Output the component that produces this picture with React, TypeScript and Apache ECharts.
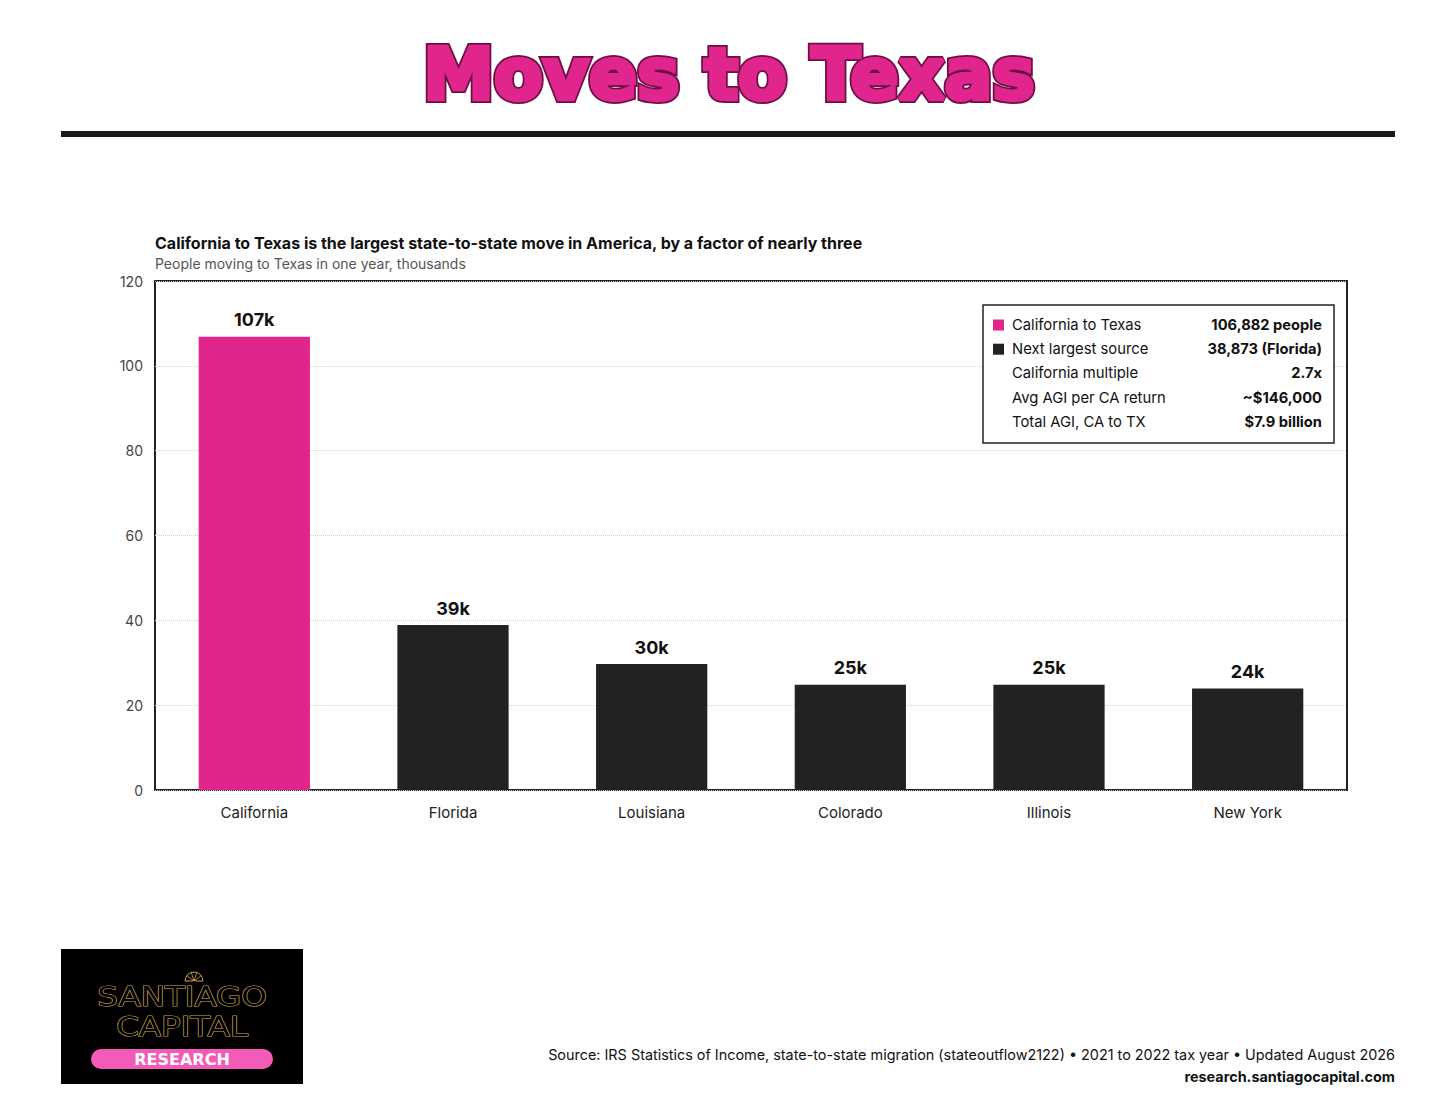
import React, { useEffect, useRef } from "react";
import * as echarts from "echarts";

const states = ["California", "Florida", "Louisiana", "Colorado", "Illinois", "New York"];
const movers = [106.882, 38.873, 29.7, 24.8, 24.8, 23.9];
const barColors = ["#E0268D", "#222222", "#222222", "#222222", "#222222", "#222222"];
const yTicks = [0, 20, 40, 60, 80, 100, 120];

const boxLabels = ["California to Texas", "Next largest source", "California multiple", "Avg AGI per CA return", "Total AGI, CA to TX"];
const boxValues = ["106,882 people", "38,873 (Florida)", "2.7x", "~$146,000", "$7.9 billion"];
const boxSwatches = ["#E0268D", "#222222", null, null, null];

const FONT = "Inter, 'Noto Sans', sans-serif";

export default function App() {
  const ref = useRef<HTMLDivElement>(null);
  useEffect(() => {
    document.body.style.margin = "0";
    const chart = echarts.init(ref.current!, null, { renderer: "svg" });
    const graphics: any[] = [];
    const titleFont = "bold 71px 'DejaVu Sans', sans-serif";
    // title (two layers: dark outline + heavy pink body)
    graphics.push({
      type: "text", x: 729, y: 74,
      style: {
        text: "Moves to Texas", font: titleFont, align: "center", verticalAlign: "middle",
        fill: "#E0268D", stroke: "#6B0F45", lineWidth: 8,
        shadowBlur: 6, shadowColor: "rgba(0,0,0,0.25)", shadowOffsetX: 2, shadowOffsetY: 3,
      },
    });
    graphics.push({
      type: "text", x: 729, y: 74,
      style: {
        text: "Moves to Texas", font: titleFont, align: "center", verticalAlign: "middle",
        fill: "#E0268D", stroke: "#E0268D", lineWidth: 4.5,
      },
    });
    graphics.push({ type: "rect", shape: { x: 61, y: 131, width: 1334, height: 6 }, style: { fill: "#1a1a1a" } });
    graphics.push({
      type: "text", x: 155, y: 235,
      style: { text: "California to Texas is the largest state-to-state move in America, by a factor of nearly three", font: `bold 16px ${FONT}`, fill: "#111" },
    });
    graphics.push({
      type: "text", x: 155, y: 256,
      style: { text: "People moving to Texas in one year, thousands", font: `14px ${FONT}`, fill: "#555" },
    });
    // info box
    graphics.push({ type: "rect", shape: { x: 983, y: 305, width: 351, height: 138 }, style: { fill: "#fff", stroke: "#222", lineWidth: 1.5 }, z: 10 });
    boxLabels.forEach((l, i) => {
      const cy = 325 + i * 24.2;
      const sw = boxSwatches[i];
      if (sw) graphics.push({ type: "rect", shape: { x: 993, y: cy - 5.5, width: 11, height: 11 }, style: { fill: sw }, z: 11 });
      graphics.push({ type: "text", x: 1012, y: cy, style: { text: l, font: `14.8px ${FONT}`, fill: "#111", verticalAlign: "middle" }, z: 11 });
      graphics.push({ type: "text", x: 1322, y: cy, style: { text: boxValues[i], font: `bold 14.7px ${FONT}`, fill: "#111", align: "right", verticalAlign: "middle" }, z: 11 });
    });
    // logo
    graphics.push({ type: "rect", shape: { x: 61, y: 949, width: 242, height: 135 }, style: { fill: "#000" } });
    graphics.push({ type: "sector", shape: { cx: 194, cy: 981, r0: 1.5, r: 9, startAngle: Math.PI, endAngle: 2 * Math.PI }, style: { fill: "none", stroke: "#C9A54C", lineWidth: 1 } });
    [0.2, 0.4, 0.6, 0.8].forEach((f) => {
      const a = Math.PI + f * Math.PI;
      graphics.push({ type: "line", shape: { x1: 194, y1: 981, x2: 194 + 9 * Math.cos(a), y2: 981 + 9 * Math.sin(a) }, style: { stroke: "#C9A54C", lineWidth: 0.8 } });
    });
    graphics.push({ type: "text", x: 182, y: 997, scaleX: 1.25, style: { text: "SANTIAGO", font: "26px 'DejaVu Sans', sans-serif", fill: "#000", stroke: "#C9A54C", lineWidth: 1.2, align: "center", verticalAlign: "middle" } });
    graphics.push({ type: "text", x: 182, y: 1027, scaleX: 1.25, style: { text: "CAPITAL", font: "26px 'DejaVu Sans', sans-serif", fill: "#000", stroke: "#C9A54C", lineWidth: 1.2, align: "center", verticalAlign: "middle" } });
    graphics.push({ type: "rect", shape: { x: 91, y: 1049, width: 182, height: 20, r: 10 }, style: { fill: "#F45BB8" } });
    graphics.push({ type: "text", x: 182, y: 1059, style: { text: "RESEARCH", font: "bold 16px 'DejaVu Sans', sans-serif", fill: "#fff", align: "center", verticalAlign: "middle" } });
    // source
    graphics.push({
      type: "text", x: 1395, y: 1054,
      style: { text: "Source: IRS Statistics of Income, state-to-state migration (stateoutflow2122) \u2022 2021 to 2022 tax year \u2022 Updated August 2026", font: `14.4px ${FONT}`, fill: "#111", align: "right", verticalAlign: "middle" },
    });
    graphics.push({
      type: "text", x: 1395, y: 1076,
      style: { text: "research.santiagocapital.com", font: `bold 14.4px ${FONT}`, fill: "#111", align: "right", verticalAlign: "middle" },
    });

    chart.setOption({
      animation: false,
      backgroundColor: "#fff",
      grid: { left: 155, right: 109, top: 281, bottom: 326, show: true, borderColor: "#222", borderWidth: 2, backgroundColor: "transparent" },
      xAxis: {
        type: "category",
        data: states,
        axisLine: { show: false },
        axisTick: { show: false },
        axisLabel: { fontFamily: FONT, fontSize: 15, color: "#222", margin: 15 },
      },
      yAxis: {
        type: "value",
        min: yTicks[0],
        max: yTicks[yTicks.length - 1],
        interval: 20,
        axisLine: { show: false },
        axisTick: { show: false },
        axisLabel: { fontFamily: FONT, fontSize: 14, color: "#444", margin: 12 },
        splitLine: { lineStyle: { color: "#d0d0d0", type: "dotted", width: 1 } },
      },
      series: [
        {
          type: "bar",
          data: movers.map((v, i) => ({ value: v, itemStyle: { color: barColors[i] } })),
          barWidth: "56%",
          label: {
            show: true,
            position: "top",
            distance: 8,
            fontFamily: FONT,
            fontSize: 18,
            fontWeight: "bold",
            color: "#111",
            formatter: (p: any) => Math.round(p.value) + "k",
          },
        },
      ],
      graphic: graphics,
    });
    return () => chart.dispose();
  }, []);
  return <div ref={ref} style={{ position: "absolute", left: 0, top: 0, width: 1456, height: 1116 }} />;
}
